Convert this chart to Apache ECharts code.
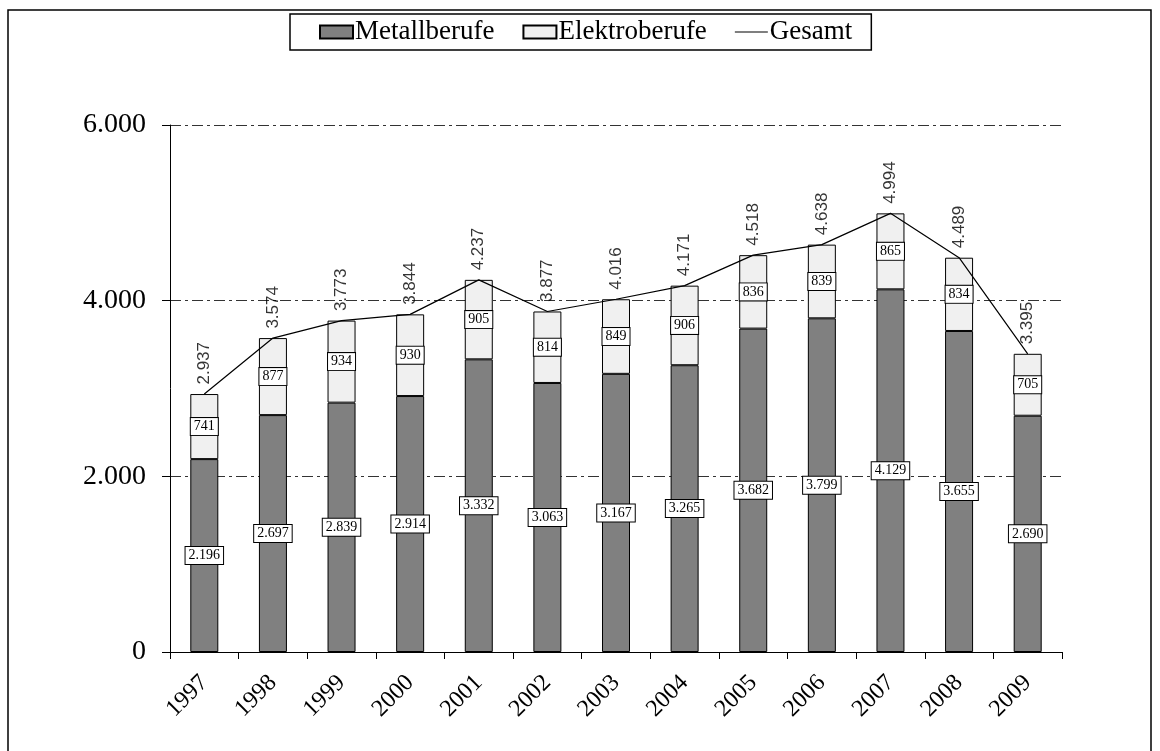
<!DOCTYPE html>
<html>
<head>
<meta charset="utf-8">
<script src="https://cdn.jsdelivr.net/npm/echarts@6/dist/echarts.min.js"></script>
<style>
html,body{margin:0;padding:0;background:#fff;}
#chart{width:1160px;height:751px;}
</style>
</head>
<body>
<div id="chart"></div>
<script>
const years = ['1997','1998','1999','2000','2001','2002','2003','2004','2005','2006','2007','2008','2009'];
const metall = [2196,2697,2839,2914,3332,3063,3167,3265,3682,3799,4129,3655,2690];
const elektro = [741,877,934,930,905,814,849,906,836,839,865,834,705];
const gesamt = [2937,3574,3773,3844,4237,3877,4016,4171,4518,4638,4994,4489,3395];
const yTicks = [0,2000,4000,6000];

function fmt(v){
  return String(v).replace(/\B(?=(\d{3})+(?!\d))/g,'.');
}
const serif = '"Liberation Serif","Times New Roman",serif';
const sans = '"Liberation Sans",Arial,sans-serif';

const boxLabel = {
  show:true, position:'inside', color:'#000', fontFamily:serif, fontSize:14,
  backgroundColor:'#fff', borderColor:'#000', borderWidth:1, padding:[2,3,1,3],
  formatter:p=>fmt(p.value)
};

const chart = echarts.init(document.getElementById('chart'), null, {renderer:'canvas'});
chart.setOption({
  animation:false,
  backgroundColor:'#fff',
  graphic:[{type:'rect', shape:{x:8,y:10,width:1143,height:800}, style:{fill:'none',stroke:'#000',lineWidth:1.5}, silent:true}],
  legend:{
    top:14, left:290,
    borderColor:'#000', borderWidth:1.5, padding:[4,19,4,29],
    itemWidth:33, itemHeight:13, itemGap:28,
    textStyle:{fontFamily:serif, fontSize:27, lineHeight:28, color:'#000', padding:[0,0,0,-3]},
    data:[
      {name:'Metallberufe', icon:'rect'},
      {name:'Elektroberufe', icon:'rect'},
      {name:'Gesamt', icon:'path://M0,0H30V1.1H0Z', itemStyle:{color:'#000', borderWidth:0}}
    ]
  },
  grid:{left:170, right:98, top:125, bottom:99, containLabel:false},
  xAxis:{
    type:'category', data:years, boundaryGap:true,
    axisLine:{lineStyle:{color:'#000',width:1}},
    axisTick:{show:true, alignWithLabel:false, length:7, lineStyle:{color:'#000'}},
    axisLabel:{rotate:45, margin:27, color:'#000', fontFamily:serif, fontSize:24, interval:0}
  },
  yAxis:{
    type:'value', min:0, max:6000, interval:2000,
    axisLine:{show:true, lineStyle:{color:'#000',width:1}},
    axisTick:{show:true, length:8, lineStyle:{color:'#000'}},
    axisLabel:{margin:24, color:'#000', fontFamily:serif, fontSize:28, formatter:v=>fmt(v)},
    splitLine:{show:true, lineStyle:{color:'#333', width:1, type:[11,4,3,4]}}
  },
  series:[
    {name:'Metallberufe', type:'bar', stack:'a', data:metall, barWidth:28,
     itemStyle:{color:'#808080', borderColor:'#000', borderWidth:1}, label:boxLabel},
    {name:'Elektroberufe', type:'bar', stack:'a', data:elektro, barWidth:28,
     itemStyle:{color:'#f0f0f0', borderColor:'#000', borderWidth:1}, label:boxLabel},
    {name:'Gesamt', type:'line', data:gesamt, symbol:'none', z:5,
     lineStyle:{color:'#000', width:1.2}, itemStyle:{color:'#000'}},
    {name:'GesamtWerte', type:'scatter', data:gesamt, symbolSize:1, z:6, silent:true,
     itemStyle:{color:'rgba(0,0,0,0)'},
     label:{show:true, position:'top', distance:9, rotate:90, align:'left', verticalAlign:'middle',
       color:'#000', fontFamily:sans, fontSize:17, formatter:p=>fmt(p.value)}}
  ]
});
</script>
</body>
</html>
